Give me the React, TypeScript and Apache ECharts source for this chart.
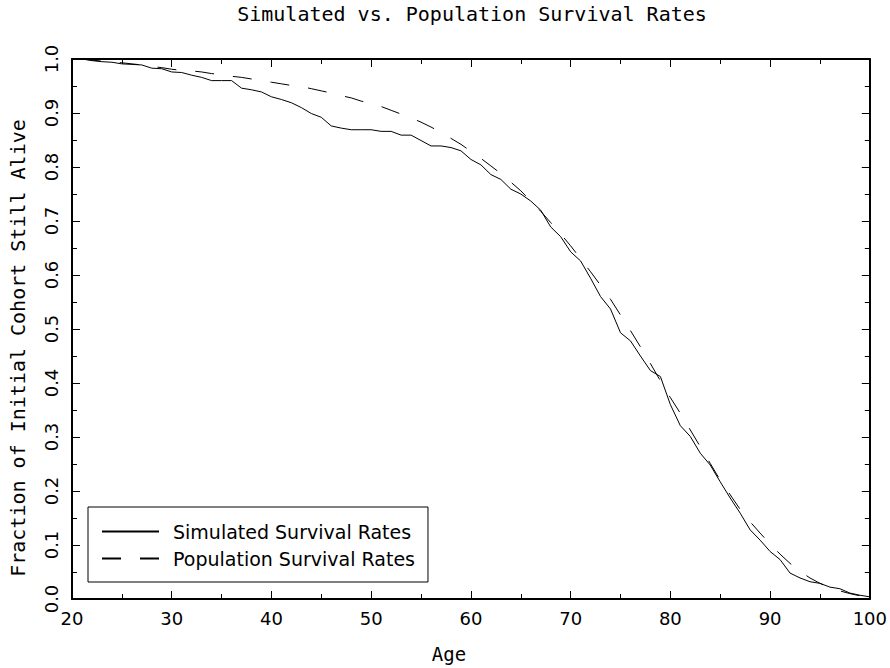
import React, { useEffect, useRef } from "react";
import * as echarts from "echarts";

const ages: number[] = [
  21, 22, 23, 24, 25, 26, 27, 28, 29, 30, 31, 32, 33, 34, 35, 36, 37, 38, 39, 40,
  41, 42, 43, 44, 45, 46, 47, 48, 49, 50, 51, 52, 53, 54, 55, 56, 57, 58, 59, 60,
  61, 62, 63, 64, 65, 66, 67, 68, 69, 70, 71, 72, 73, 74, 75, 76, 77, 78, 79, 80,
  81, 82, 83, 84, 85, 86, 87, 88, 89, 90, 91, 92, 93, 94, 95, 96, 97, 98, 99, 100,
];

const simulated: number[] = [
  1.0, 0.997, 0.995, 0.994, 0.991, 0.99, 0.989, 0.983, 0.982, 0.976,
  0.975, 0.97, 0.966, 0.96, 0.96, 0.96, 0.946, 0.943, 0.939, 0.93,
  0.925, 0.919, 0.91, 0.899, 0.892, 0.876, 0.872, 0.869, 0.869, 0.869,
  0.866, 0.866, 0.859, 0.859, 0.849, 0.839, 0.839, 0.836, 0.83, 0.814,
  0.804, 0.786, 0.777, 0.759, 0.75, 0.737, 0.72, 0.689, 0.671, 0.643,
  0.626, 0.594, 0.56, 0.537, 0.493, 0.478, 0.45, 0.423, 0.412, 0.36,
  0.321, 0.301, 0.27, 0.248, 0.217, 0.187, 0.159, 0.128, 0.109, 0.088,
  0.073, 0.048, 0.039, 0.032, 0.029, 0.022, 0.019, 0.011, 0.007, 0.004,
];

const population: number[] = [
  1.0, 0.998, 0.996, 0.994, 0.993, 0.991, 0.989, 0.986, 0.984, 0.981,
  0.979, 0.978, 0.976, 0.973, 0.971, 0.968, 0.966, 0.963, 0.96, 0.957,
  0.954, 0.951, 0.949, 0.945, 0.941, 0.937, 0.932, 0.928, 0.922, 0.918,
  0.912, 0.905, 0.898, 0.891, 0.883, 0.874, 0.864, 0.853, 0.842, 0.829,
  0.816, 0.802, 0.788, 0.772, 0.756, 0.737, 0.718, 0.697, 0.676, 0.654,
  0.63, 0.606, 0.581, 0.555, 0.526, 0.497, 0.467, 0.436, 0.404, 0.373,
  0.344, 0.313, 0.282, 0.251, 0.22, 0.193, 0.166, 0.143, 0.122, 0.102,
  0.083, 0.066, 0.051, 0.039, 0.029, 0.021, 0.015, 0.01, 0.006, 0.003,
];

const seriesNames: string[] = ["Simulated Survival Rates", "Population Survival Rates"];
const chartTitle = "Simulated vs. Population Survival Rates";
const xName = "Age";
const yName = "Fraction of Initial Cohort Still Alive";

export default function App() {
  const ref = useRef<HTMLDivElement>(null);

  useEffect(() => {
    if (!ref.current) return;
    const chart = echarts.init(ref.current, undefined, { renderer: "svg" });
    const black = "#000";
    const axisCommon = {
      axisLine: { show: true, onZero: false, lineStyle: { color: black, width: 2 } },
      axisTick: { show: true, inside: true, length: 8, lineStyle: { color: black, width: 1 } },
      minorTick: { show: true, splitNumber: 2, length: 5, lineStyle: { color: black, width: 1 } },
      splitLine: { show: false },
      minorSplitLine: { show: false },
    };
    chart.setOption({
      animation: false,
      backgroundColor: "#fff",
      title: {
        text: chartTitle,
        left: 472,
        top: 4,
        padding: 0,
        textAlign: "center",
        textStyle: {
          fontFamily: "DejaVu Sans Mono",
          fontSize: 20,
          fontWeight: "normal",
          color: black,
        },
      },
      legend: {
        left: 88,
        top: 507,
        orient: "vertical",
        padding: [15, 13, 14, 13],
        itemGap: 8,
        itemWidth: 57,
        itemHeight: 19,
        borderColor: black,
        borderWidth: 1,
        borderRadius: 0,
        data: seriesNames,
        itemStyle: { opacity: 0 },
        textStyle: {
          fontFamily: "DejaVu Sans",
          fontSize: 19,
          color: black,
          padding: [0, 0, 0, 9],
        },
      },
      grid: { left: 72, right: 18, top: 59, bottom: 69 },
      xAxis: [
        {
          type: "value",
          min: 20,
          max: 100,
          interval: 10,
          position: "bottom",
          name: xName,
          nameLocation: "middle",
          nameGap: 45,
          nameTextStyle: {
            fontFamily: "DejaVu Sans Mono",
            fontSize: 19,
            color: black,
            padding: [0, 44, 0, 0],
          },
          axisLabel: {
            margin: 10,
            fontFamily: "DejaVu Sans",
            fontSize: 18,
            color: black,
          },
          ...axisCommon,
        },
        {
          type: "value",
          min: 20,
          max: 100,
          interval: 10,
          position: "top",
          axisLabel: { show: false },
          ...axisCommon,
        },
      ],
      yAxis: [
        {
          type: "value",
          min: 0,
          max: 1,
          interval: 0.1,
          position: "left",
          name: yName,
          nameLocation: "middle",
          nameGap: 44,
          nameRotate: 90,
          nameTextStyle: {
            fontFamily: "DejaVu Sans Mono",
            fontSize: 20,
            color: black,
            padding: [0, 38, 0, 0],
          },
          axisLabel: {
            rotate: 90,
            margin: 12,
            fontFamily: "DejaVu Sans",
            fontSize: 18,
            color: black,
            formatter: (v: number) => v.toFixed(1),
          },
          ...axisCommon,
        },
        {
          type: "value",
          min: 0,
          max: 1,
          interval: 0.1,
          position: "right",
          axisLabel: { show: false },
          ...axisCommon,
        },
      ],
      series: [
        {
          name: seriesNames[0],
          type: "line",
          xAxisIndex: 0,
          yAxisIndex: 0,
          symbol: "none",
          data: ages.map((a, i) => [a, simulated[i]]),
          lineStyle: { color: black, width: 1, type: "solid" },
          itemStyle: { color: black },
        },
        {
          name: seriesNames[1],
          type: "line",
          xAxisIndex: 0,
          yAxisIndex: 0,
          symbol: "none",
          data: ages.map((a, i) => [a, population[i]]),
          lineStyle: { color: black, width: 1, type: [19, 19] },
          itemStyle: { color: black },
        },
      ],
    });
    return () => chart.dispose();
  }, []);

  return (
    <div
      ref={ref}
      style={{ position: "absolute", left: 0, top: 0, width: 890, height: 668, background: "#fff" }}
    />
  );
}
